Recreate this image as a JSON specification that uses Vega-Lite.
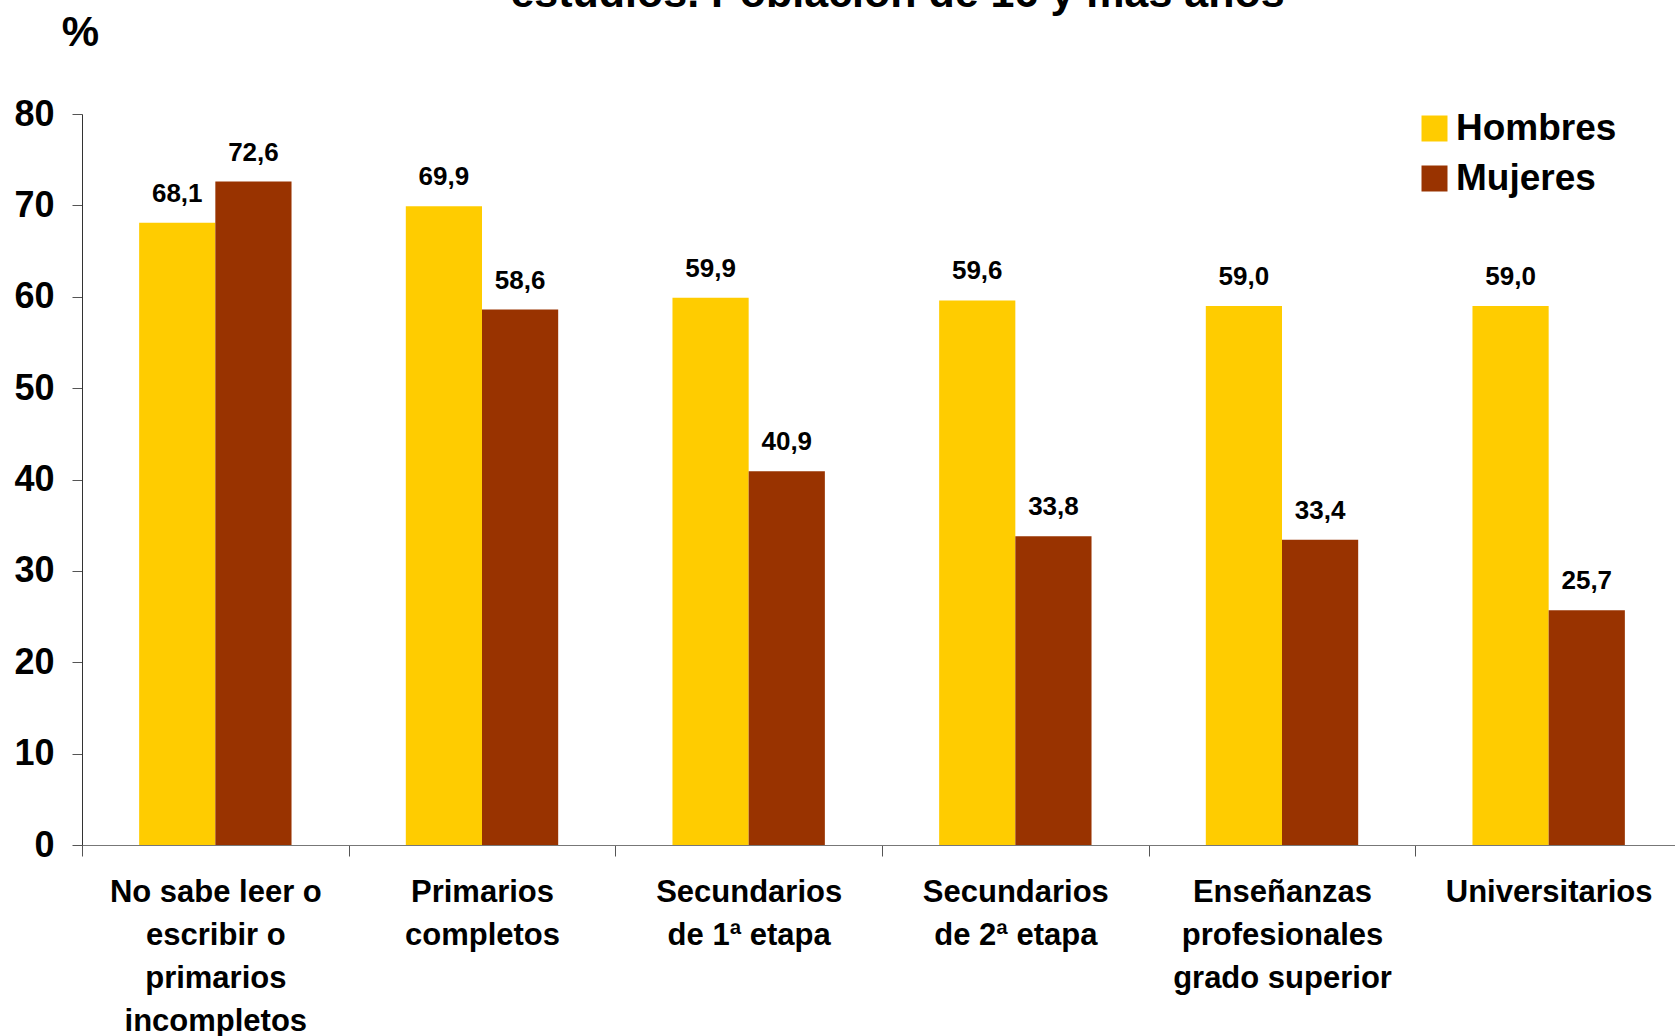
{
  "$schema": "https://vega.github.io/schema/vega-lite/v6.json",
  "autosize": {"type": "none"},
  "padding": {"left": 82, "top": 114, "right": 0, "bottom": 191},
  "width": 1593,
  "height": 731,
  "title": {
    "text": "estudios. Población de 16 y más años",
    "frame": "group",
    "anchor": "middle",
    "baseline": "alphabetic",
    "offset": 0,
    "dx": 19,
    "dy": 39,
    "font": "Liberation Sans",
    "fontSize": 43,
    "fontWeight": "bold",
    "color": "#000000"
  },
  "config": {
    "locale": {
      "number": {"decimal": ",", "thousands": ".", "grouping": [3], "currency": ["", " €"]}
    },
    "view": {"stroke": null},
    "font": "Liberation Sans"
  },
  "data": {
    "values": [
      {"nivel": "No sabe leer o escribir o primarios incompletos", "sexo": "Hombres", "valor": 68.1},
      {"nivel": "No sabe leer o escribir o primarios incompletos", "sexo": "Mujeres", "valor": 72.6},
      {"nivel": "Primarios completos", "sexo": "Hombres", "valor": 69.9},
      {"nivel": "Primarios completos", "sexo": "Mujeres", "valor": 58.6},
      {"nivel": "Secundarios de 1ª etapa", "sexo": "Hombres", "valor": 59.9},
      {"nivel": "Secundarios de 1ª etapa", "sexo": "Mujeres", "valor": 40.9},
      {"nivel": "Secundarios de 2ª etapa", "sexo": "Hombres", "valor": 59.6},
      {"nivel": "Secundarios de 2ª etapa", "sexo": "Mujeres", "valor": 33.8},
      {"nivel": "Enseñanzas profesionales grado superior", "sexo": "Hombres", "valor": 59.0},
      {"nivel": "Enseñanzas profesionales grado superior", "sexo": "Mujeres", "valor": 33.4},
      {"nivel": "Universitarios", "sexo": "Hombres", "valor": 59.0},
      {"nivel": "Universitarios", "sexo": "Mujeres", "valor": 25.7}
    ]
  },
  "encoding": {
    "x": {
      "field": "nivel",
      "type": "nominal",
      "sort": null,
      "scale": {"paddingInner": 0, "paddingOuter": 0, "range": [0, 1600]},
      "axis": {
        "title": null,
        "labelAngle": 0,
        "tickBand": "extent",
        "tickSize": 11,
        "tickColor": "#555555",
        "domainColor": "#777777",
        "labelFont": "Liberation Sans",
        "labelFontSize": 31,
        "labelFontWeight": "bold",
        "labelColor": "#000000",
        "labelPadding": 21,
        "labelLineHeight": 43,
        "labelBaseline": "top",
        "labelLimit": 400,
        "labelExpr": "datum.value == 'No sabe leer o escribir o primarios incompletos' ? ['No sabe leer o', 'escribir o', 'primarios', 'incompletos'] : datum.value == 'Primarios completos' ? ['Primarios', 'completos'] : datum.value == 'Secundarios de 1ª etapa' ? ['Secundarios', 'de 1ª etapa'] : datum.value == 'Secundarios de 2ª etapa' ? ['Secundarios', 'de 2ª etapa'] : datum.value == 'Enseñanzas profesionales grado superior' ? ['Enseñanzas', 'profesionales', 'grado superior'] : datum.value"
      }
    },
    "xOffset": {
      "field": "sexo",
      "type": "nominal",
      "sort": ["Hombres", "Mujeres"],
      "scale": {"paddingInner": 0, "paddingOuter": 0.75}
    },
    "y": {
      "field": "valor",
      "type": "quantitative",
      "scale": {"domain": [0, 80], "nice": false},
      "axis": {
        "title": "%",
        "titleAngle": 0,
        "titleX": -2,
        "titleY": -69,
        "titleAlign": "center",
        "titleBaseline": "alphabetic",
        "titleFont": "Liberation Sans",
        "titleFontSize": 42,
        "titleFontWeight": "bold",
        "titleColor": "#000000",
        "values": [0, 10, 20, 30, 40, 50, 60, 70, 80],
        "grid": false,
        "tickSize": 10,
        "tickColor": "#555555",
        "domainColor": "#333333",
        "labelFont": "Liberation Sans",
        "labelFontSize": 36,
        "labelFontWeight": "bold",
        "labelColor": "#000000",
        "labelPadding": 18
      }
    }
  },
  "layer": [
    {
      "mark": {"type": "bar"},
      "encoding": {
        "color": {
          "field": "sexo",
          "type": "nominal",
          "sort": ["Hombres", "Mujeres"],
          "scale": {"domain": ["Hombres", "Mujeres"], "range": ["#FFCC00", "#993300"]},
          "legend": {
            "title": null,
            "orient": "none",
            "legendX": 1334,
            "legendY": -4,
            "symbolType": "square",
            "symbolSize": 676,
            "symbolStrokeWidth": 0,
            "symbolOpacity": 1,
            "labelFont": "Liberation Sans",
            "labelFontSize": 37,
            "labelFontWeight": "bold",
            "labelColor": "#000000",
            "labelOffset": 3,
            "labelLimit": 400,
            "rowPadding": 12
          }
        }
      }
    },
    {
      "mark": {
        "type": "text",
        "baseline": "alphabetic",
        "dy": -21,
        "font": "Liberation Sans",
        "fontSize": 26,
        "fontWeight": "bold",
        "color": "#000000"
      },
      "encoding": {
        "text": {"field": "valor", "type": "quantitative", "format": ".1f"}
      }
    }
  ]
}
